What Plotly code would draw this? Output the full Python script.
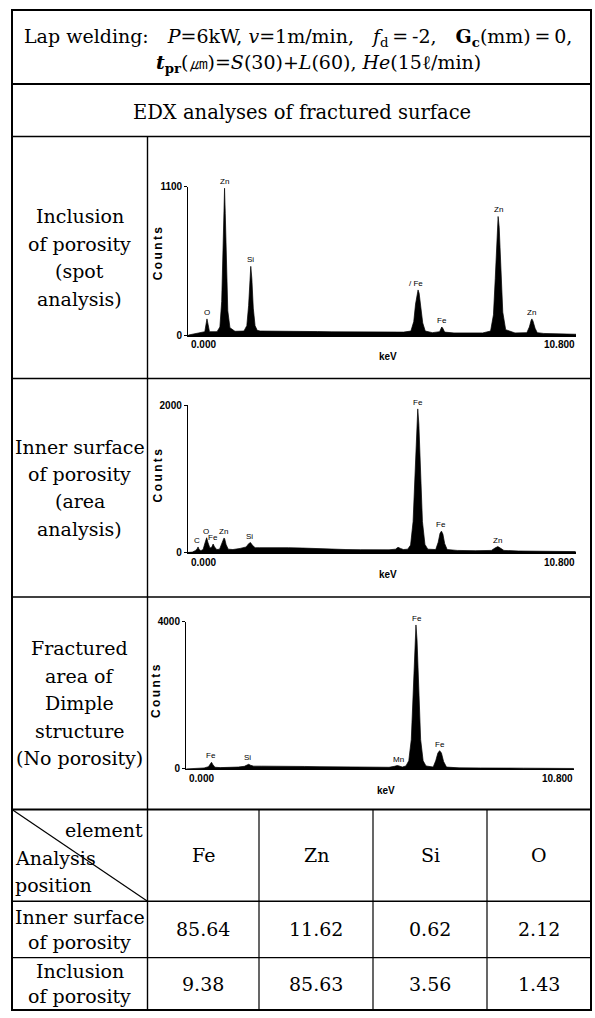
import plotly.graph_objects as go

W, H = 595, 1018
SERIF = "DejaVu Serif"
SANS = "Liberation Sans"

# ---------------- data ----------------
header_line1 = ("Lap welding:\u2003<i>P</i>=6kW, <i>v</i>=1m/min,\u2003<i>f</i><sub>d</sub>\u2009=\u2009-2,\u2003"
                "<b>G</b><sub><b>c</b></sub>(mm)\u2009=\u20090,")
header_line2 = ("<b><i>t</i></b><sub><b>pr</b></sub>(㎛)=<i>S</i>(30)+<i>L</i>(60), "
                "<i>He</i>(15ℓ/min)")
section_title = "EDX analyses of fractured surface"

row_labels = [
    ["Inclusion", "of porosity", "(spot", "analysis)"],
    ["Inner surface", "of porosity", "(area", "analysis)"],
    ["Fractured", "area of", "Dimple", "structure", "(No porosity)"],
]

# Spectrum 1 : inclusion of porosity (spot analysis)
s1_E = [0.00, 0.10, 0.20, 0.35,
        0.46, 0.50, 0.52, 0.55, 0.59,
        0.80, 0.88, 0.93, 0.97, 1.00, 1.01, 1.03, 1.06, 1.10, 1.16,
        1.30, 1.55, 1.63, 1.68, 1.72, 1.74, 1.77, 1.81, 1.86, 1.92,
        2.00, 2.40, 2.80, 3.20, 3.60, 4.00, 4.40, 4.80, 5.20, 5.60, 6.00,
        6.20, 6.28, 6.33, 6.38, 6.40, 6.43, 6.48, 6.53, 6.60,
        6.80, 7.00, 7.04, 7.06, 7.09, 7.14,
        7.40, 7.80, 8.20, 8.42, 8.50, 8.55, 8.60, 8.63, 8.66, 8.71, 8.76, 8.84,
        9.10, 9.43, 9.50, 9.55, 9.57, 9.60, 9.66, 9.72,
        9.90, 10.30, 10.80]
s1_counts = [0, 5, 12, 15,
             25, 90, 120, 80, 25,
             25, 60, 250, 600, 1000, 1090, 900, 480, 180, 55,
             28, 30, 70, 220, 450, 510, 420, 200, 70, 35,
             30, 30, 28, 27, 26, 24, 23, 22, 22, 21, 22,
             30, 100, 230, 320, 335, 310, 200, 90, 30,
             18, 25, 55, 60, 50, 22,
             16, 15, 16, 30, 150, 420, 780, 880, 800, 450, 170, 40,
             16, 18, 60, 110, 120, 105, 50, 18,
             12, 9, 6]
s1_ymax = 1100
s1_lbl = ["O", "Zn", "Si", "/ Fe", "Fe", "Zn", "Zn"]
s1_lbl_E = [0.52, 1.01, 1.74, 6.33, 7.06, 8.63, 9.57]
s1_lbl_y = [120, 1090, 510, 335, 60, 880, 120]

# Spectrum 2 : inner surface of porosity (area analysis)
s2_E = [0.00, 0.12, 0.20, 0.25, 0.28, 0.31, 0.36,
        0.42, 0.48, 0.52, 0.56, 0.61,
        0.66, 0.70, 0.74, 0.80,
        0.88, 0.95, 1.00, 1.02, 1.06, 1.12,
        1.25, 1.45, 1.62, 1.69, 1.74, 1.79, 1.87,
        2.00, 2.40, 2.80, 3.20, 3.60, 4.00, 4.40, 4.80, 5.20, 5.60,
        5.78, 5.85, 5.92, 6.00,
        6.12, 6.20, 6.27, 6.33, 6.37, 6.40, 6.43, 6.47, 6.53, 6.60, 6.68,
        6.90, 6.97, 7.02, 7.06, 7.10, 7.15, 7.22,
        7.50, 8.00, 8.45, 8.55, 8.63, 8.70, 8.80,
        9.20, 9.80, 10.30, 10.80]
s2_counts = [0, 5, 25, 45, 75, 40, 25,
             40, 140, 200, 130, 60,
             70, 115, 75, 40,
             45, 120, 195, 190, 110, 45,
             40, 55, 75, 120, 135, 100, 65,
             65, 68, 65, 60, 50, 42, 40, 38, 36, 36,
             45, 70, 55, 40,
             45, 100, 420, 1200, 1750, 1950, 1750, 1200, 420, 110, 45,
             40, 140, 260, 290, 250, 120, 40,
             28, 24, 28, 60, 80, 60, 28,
             20, 16, 22, 12]
s2_ymax = 2000
s2_lbl = ["C", "O", "Fe", "Zn", "Si", "Fe", "Fe", "Zn"]
s2_lbl_E = [0.25, 0.50, 0.70, 1.00, 1.70, 6.42, 7.04, 8.62]
s2_lbl_y = [75, 200, 115, 195, 135, 1950, 290, 80]

# Spectrum 3 : fractured area of dimple structure
s3_E = [0.00, 0.15, 0.30, 0.50, 0.62, 0.67, 0.705, 0.74, 0.80,
        0.95, 1.20, 1.45, 1.62, 1.69, 1.74, 1.79, 1.88,
        2.10, 2.50, 2.90, 3.30, 3.70, 4.10, 4.50, 4.90, 5.30, 5.65,
        5.80, 5.88, 5.93, 6.02,
        6.12, 6.20, 6.27, 6.33, 6.37, 6.40, 6.43, 6.47, 6.53, 6.60, 6.68,
        6.88, 6.95, 7.01, 7.06, 7.11, 7.17, 7.25,
        7.60, 8.20, 8.80, 9.40, 10.00, 10.80]
s3_counts = [0, 8, 15, 25, 60, 130, 180, 120, 45,
             35, 40, 50, 70, 110, 125, 100, 75,
             75, 78, 72, 66, 60, 55, 52, 48, 45, 44,
             70, 90, 80, 50,
             80, 220, 800, 2400, 3500, 3910, 3500, 2400, 800, 220, 80,
             50, 220, 430, 495, 430, 200, 50,
             28, 25, 30, 20, 16, 12]
s3_ymax = 4000
s3_lbl = ["Fe", "Si", "Mn", "Fe", "Fe"]
s3_lbl_E = [0.70, 1.72, 5.90, 6.43, 7.06]
s3_lbl_y = [180, 125, 90, 3910, 495]

x_min_label, x_max_label = "0.000", "10.800"
x_max = 10.8
x_title = "keV"
y_title = "C\u2009o\u2009u\u2009n\u2009t\u2009s"

table_col_heads = ["Fe", "Zn", "Si", "O"]
table_row_heads = [["Inner surface", "of porosity"], ["Inclusion", "of porosity"]]
table_values = [[85.64, 11.62, 0.62, 2.12],
                [9.38, 85.63, 3.56, 1.43]]
corner_top = "element"
corner_bottom = ["Analysis", "position"]

# ---------------- geometry (pixels) ----------------
def px(x):
    return x / W


def py(y):
    return 1 - y / H


L, R = 12, 591
COL = 147.5
rows_y = dict(top=4, head=79, edx=132, r1=377, r2=598, r3=813, t1=906, t2=963, bot=1016)
tab_cols = [COL, 259, 373, 487, R]
KEV_PX = 35.9
FS = 19

panels = [
    dict(E=s1_E, c=s1_counts, ymax=s1_ymax, lbl=s1_lbl, lE=s1_lbl_E, ly=s1_lbl_y,
         x0=188.3, base=333, top=183, cy=250),
    dict(E=s2_E, c=s2_counts, ymax=s2_ymax, lbl=s2_lbl, lE=s2_lbl_E, ly=s2_lbl_y,
         x0=188.0, base=553, top=404, cy=475),
    dict(E=s3_E, c=s3_counts, ymax=s3_ymax, lbl=s3_lbl, lE=s3_lbl_E, ly=s3_lbl_y,
         x0=186.2, base=772, top=623, cy=693),
]

fig = go.Figure()
annotations = []
shapes = []

def line(x0, y0, x1, y1, w=1.4):
    shapes.append(dict(type="line", xref="paper", yref="paper",
                       x0=px(x0), y0=py(y0), x1=px(x1), y1=py(y1),
                       line=dict(color="black", width=w)))

def text(x, y, t, size=FS, family=SERIF, xa="center", ya="middle", angle=0, weight="normal"):
    annotations.append(dict(xref="paper", yref="paper", x=px(x), y=py(y), text=t,
                            showarrow=False, xanchor=xa, yanchor=ya, textangle=angle,
                            font=dict(family=family, size=size, color="black", weight=weight)))

layout_axes = {}
for i, p in enumerate(panels, start=2):
    xa, ya = f"xaxis{i}", f"yaxis{i}"
    x1 = p["x0"] + x_max * KEV_PX
    fig.add_trace(go.Scatter(x=p["E"], y=p["c"], mode="lines", fill="tozeroy",
                             fillcolor="black", line=dict(color="black", width=0.7),
                             xaxis=f"x{i}", yaxis=f"y{i}", showlegend=False,
                             hoverinfo="skip"))
    layout_axes[xa] = dict(domain=[px(p["x0"]), px(x1)], range=[0, x_max], anchor=f"y{i}",
                           showline=True, linecolor="black", linewidth=1.5,
                           showgrid=False, zeroline=False, showticklabels=False,
                           ticks="", fixedrange=True)
    layout_axes[ya] = dict(domain=[py(p["base"]), py(p["top"])], range=[0, p["ymax"]],
                           anchor=f"x{i}", showline=True, linecolor="black", linewidth=1.2,
                           showgrid=False, zeroline=False, tickmode="array",
                           tickvals=[0, p["ymax"]], ticktext=["0", str(p["ymax"])],
                           ticks="outside", ticklen=3, tickwidth=1, tickcolor="black",
                           tickfont=dict(family=SANS, size=10, color="black", weight="bold"),
                           fixedrange=True)
    for t, e, yv in zip(p["lbl"], p["lE"], p["ly"]):
        annotations.append(dict(xref=f"x{i}", yref=f"y{i}", x=e, y=yv, text=t,
                                showarrow=False, xanchor="center", yanchor="bottom",
                                font=dict(family=SANS, size=8, color="black")))
    text(p["x0"] + 1, p["base"] + 10, x_min_label, size=10, family=SANS, xa="left", weight="bold")
    text(x1 + 1, p["base"] + 10, x_max_label, size=10, family=SANS, xa="right", weight="bold")
    text(p["x0"] + 200, p["base"] + 22, x_title, size=10, family=SANS, weight="bold")
    text(p["x0"] - 30, p["cy"], y_title, size=12, family=SANS, angle=-90, weight="bold")

# ---------------- table frame ----------------
shapes.append(dict(type="rect", xref="paper", yref="paper", x0=px(L), y0=py(rows_y["bot"]),
                   x1=px(R), y1=py(rows_y["top"]), line=dict(color="black", width=2)))
for key in ["head", "edx", "r1", "r2", "r3", "t1", "t2"]:
    line(L, rows_y[key], R, rows_y[key], w=2 if key in ("head", "r3") else 1.4)
line(COL, rows_y["edx"], COL, rows_y["bot"], w=1.4)
for xc in tab_cols[1:-1]:
    line(xc, rows_y["r3"], xc, rows_y["bot"], w=1.2)
line(L, rows_y["r3"], COL, rows_y["t1"], w=1.2)

# ---------------- texts ----------------
text(22, 32, header_line1, xa="left")
text(154, 58, header_line2, xa="left")
text((L + R) / 2, 108, section_title, size=19.5)

LS = 27.7
cx = (L + COL) / 2
for labels, (ya_, yb_) in zip(row_labels, [(rows_y["edx"], rows_y["r1"]),
                                           (rows_y["r1"], rows_y["r2"]),
                                           (rows_y["r2"], rows_y["r3"])]):
    mid = (ya_ + yb_) / 2
    n = len(labels)
    for k, t in enumerate(labels):
        text(cx, mid + (k - (n - 1) / 2) * LS, t)

# bottom table
text(COL - 3, 834, corner_top, xa="right")
text(L + 0.5, 862, corner_bottom[0], xa="left")
text(L + 0.5, 889, corner_bottom[1], xa="left")
head_mid = (rows_y["r3"] + rows_y["t1"]) / 2
for j, h in enumerate(table_col_heads):
    text((tab_cols[j] + tab_cols[j + 1]) / 2, head_mid, h)
row_bounds = [(rows_y["t1"], rows_y["t2"]), (rows_y["t2"], rows_y["bot"])]
for r, (rh, (ya_, yb_)) in enumerate(zip(table_row_heads, row_bounds)):
    mid = (ya_ + yb_) / 2
    text(cx, mid - 12.5, rh[0])
    text(cx, mid + 12.5, rh[1])
    for j, v in enumerate(table_values[r]):
        text((tab_cols[j] + tab_cols[j + 1]) / 2, mid, f"{v:.2f}")

fig.update_layout(width=W, height=H, autosize=False,
                  margin=dict(l=0, r=0, t=0, b=0),
                  paper_bgcolor="white", plot_bgcolor="rgba(0,0,0,0)",
                  shapes=shapes, annotations=annotations, showlegend=False,
                  **layout_axes)
fig.write_html("out.html",
               config={"displayModeBar": False, "staticPlot": True},
               post_script="document.body.style.margin='0';document.body.style.padding='0';"
                           "document.documentElement.style.overflow='hidden';")
